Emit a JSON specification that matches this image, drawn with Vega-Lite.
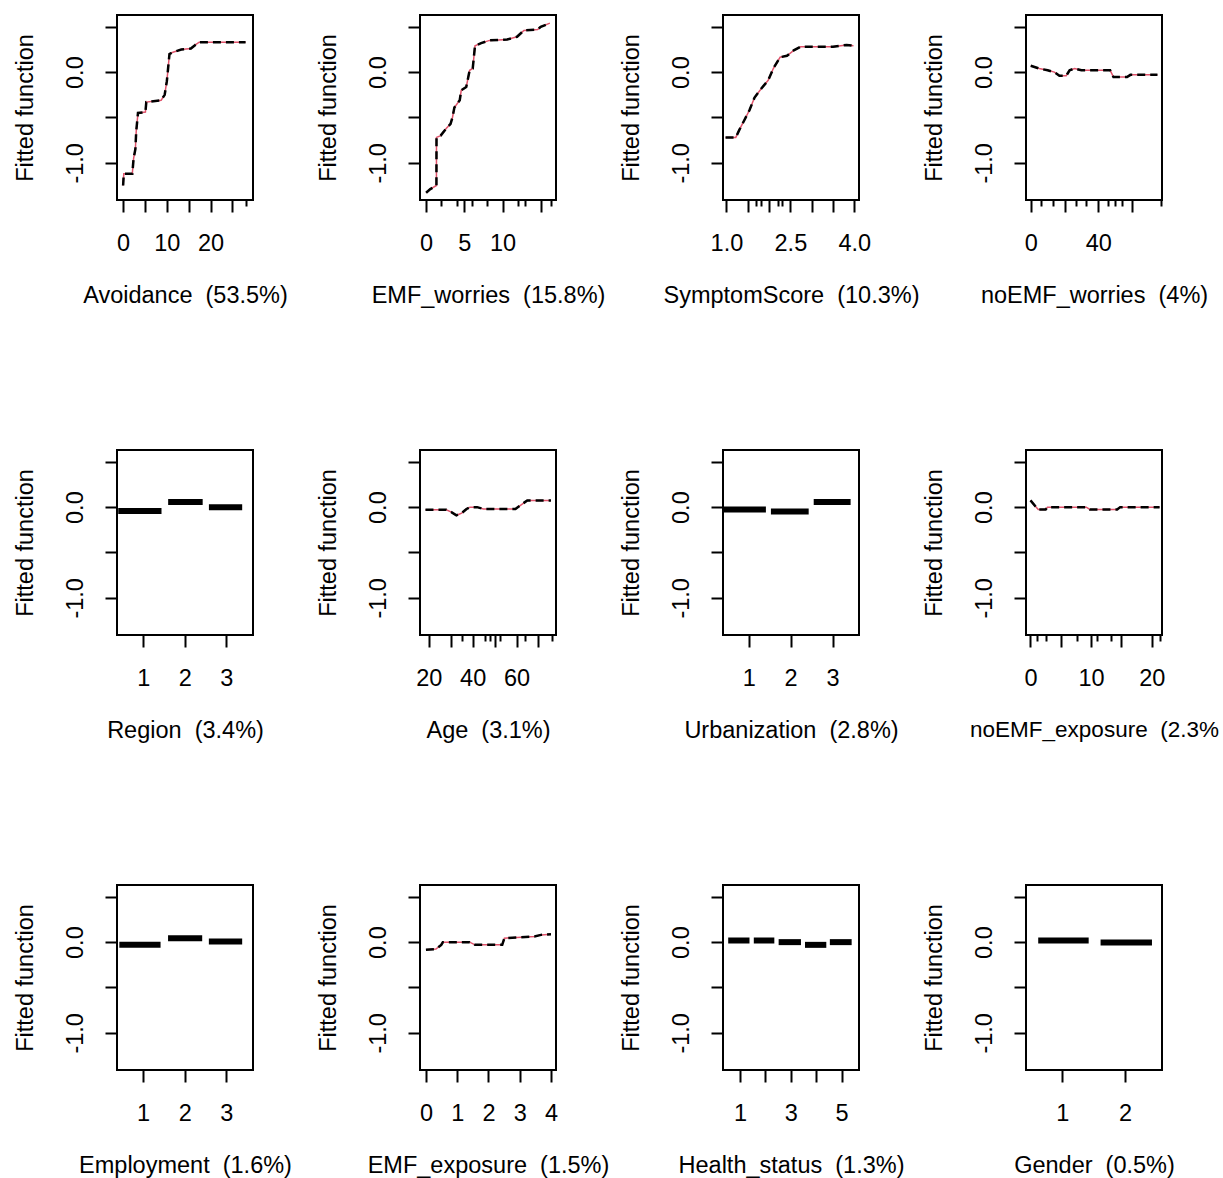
{
  "$schema": "https://vega.github.io/schema/vega-lite/v6.json",
  "background": "white",
  "padding": {"left": 12, "top": 14, "right": 0, "bottom": 0},
  "columns": 4,
  "bounds": "flush",
  "spacing": {"row": 250, "column": 167},
  "datasets": {
    "curves": [
      {"v": "Avoidance", "x": 0, "y": -1.25}, {"v": "Avoidance", "x": 0.15, "y": -1.12}, {"v": "Avoidance", "x": 2.1, "y": -1.12}, {"v": "Avoidance", "x": 2.4, "y": -0.95}, {"v": "Avoidance", "x": 2.8, "y": -0.85}, {"v": "Avoidance", "x": 3.0, "y": -0.65}, {"v": "Avoidance", "x": 3.4, "y": -0.45}, {"v": "Avoidance", "x": 5.1, "y": -0.44}, {"v": "Avoidance", "x": 5.3, "y": -0.33}, {"v": "Avoidance", "x": 8.7, "y": -0.31}, {"v": "Avoidance", "x": 9.5, "y": -0.25}, {"v": "Avoidance", "x": 10.0, "y": -0.1}, {"v": "Avoidance", "x": 10.6, "y": 0.2}, {"v": "Avoidance", "x": 11.4, "y": 0.22}, {"v": "Avoidance", "x": 13.3, "y": 0.25}, {"v": "Avoidance", "x": 15.5, "y": 0.26}, {"v": "Avoidance", "x": 16.5, "y": 0.3}, {"v": "Avoidance", "x": 17.4, "y": 0.33}, {"v": "Avoidance", "x": 28, "y": 0.33},
      {"v": "EMF_worries", "x": 0, "y": -1.33}, {"v": "EMF_worries", "x": 0.55, "y": -1.29}, {"v": "EMF_worries", "x": 1.35, "y": -1.25}, {"v": "EMF_worries", "x": 1.36, "y": -0.72}, {"v": "EMF_worries", "x": 1.9, "y": -0.7}, {"v": "EMF_worries", "x": 2.6, "y": -0.625}, {"v": "EMF_worries", "x": 3.2, "y": -0.57}, {"v": "EMF_worries", "x": 3.45, "y": -0.5}, {"v": "EMF_worries", "x": 3.7, "y": -0.39}, {"v": "EMF_worries", "x": 4.4, "y": -0.31}, {"v": "EMF_worries", "x": 4.6, "y": -0.2}, {"v": "EMF_worries", "x": 5.25, "y": -0.165}, {"v": "EMF_worries", "x": 5.7, "y": 0.02}, {"v": "EMF_worries", "x": 6.1, "y": 0.04}, {"v": "EMF_worries", "x": 6.4, "y": 0.29}, {"v": "EMF_worries", "x": 7.2, "y": 0.32}, {"v": "EMF_worries", "x": 8.3, "y": 0.35}, {"v": "EMF_worries", "x": 10.6, "y": 0.36}, {"v": "EMF_worries", "x": 11.9, "y": 0.39}, {"v": "EMF_worries", "x": 12.8, "y": 0.46}, {"v": "EMF_worries", "x": 14.6, "y": 0.47}, {"v": "EMF_worries", "x": 15.0, "y": 0.5}, {"v": "EMF_worries", "x": 16.2, "y": 0.54},
      {"v": "SymptomScore", "x": 0.98, "y": -0.72}, {"v": "SymptomScore", "x": 1.22, "y": -0.72}, {"v": "SymptomScore", "x": 1.3, "y": -0.64}, {"v": "SymptomScore", "x": 1.42, "y": -0.53}, {"v": "SymptomScore", "x": 1.54, "y": -0.42}, {"v": "SymptomScore", "x": 1.66, "y": -0.28}, {"v": "SymptomScore", "x": 1.82, "y": -0.18}, {"v": "SymptomScore", "x": 1.98, "y": -0.09}, {"v": "SymptomScore", "x": 2.1, "y": 0.04}, {"v": "SymptomScore", "x": 2.26, "y": 0.165}, {"v": "SymptomScore", "x": 2.42, "y": 0.18}, {"v": "SymptomScore", "x": 2.58, "y": 0.24}, {"v": "SymptomScore", "x": 2.74, "y": 0.28}, {"v": "SymptomScore", "x": 3.5, "y": 0.28}, {"v": "SymptomScore", "x": 3.82, "y": 0.3}, {"v": "SymptomScore", "x": 3.98, "y": 0.29},
      {"v": "noEMF_worries", "x": 0, "y": 0.07}, {"v": "noEMF_worries", "x": 5, "y": 0.04}, {"v": "noEMF_worries", "x": 10, "y": 0.02}, {"v": "noEMF_worries", "x": 14, "y": 0}, {"v": "noEMF_worries", "x": 17, "y": -0.04}, {"v": "noEMF_worries", "x": 21, "y": -0.04}, {"v": "noEMF_worries", "x": 23, "y": 0.02}, {"v": "noEMF_worries", "x": 26, "y": 0.04}, {"v": "noEMF_worries", "x": 30, "y": 0.02}, {"v": "noEMF_worries", "x": 47, "y": 0.02}, {"v": "noEMF_worries", "x": 49, "y": -0.055}, {"v": "noEMF_worries", "x": 57, "y": -0.055}, {"v": "noEMF_worries", "x": 59, "y": -0.03}, {"v": "noEMF_worries", "x": 75, "y": -0.03},
      {"v": "Age", "x": 18.5, "y": -0.03}, {"v": "Age", "x": 28, "y": -0.03}, {"v": "Age", "x": 30.3, "y": -0.055}, {"v": "Age", "x": 32.6, "y": -0.09}, {"v": "Age", "x": 35, "y": -0.067}, {"v": "Age", "x": 37.2, "y": -0.02}, {"v": "Age", "x": 38.8, "y": 0}, {"v": "Age", "x": 42, "y": 0}, {"v": "Age", "x": 44.9, "y": -0.02}, {"v": "Age", "x": 59.5, "y": -0.02}, {"v": "Age", "x": 61.8, "y": 0.02}, {"v": "Age", "x": 64.9, "y": 0.074}, {"v": "Age", "x": 75.7, "y": 0.074},
      {"v": "noEMF_exposure", "x": 0, "y": 0.074}, {"v": "noEMF_exposure", "x": 0.84, "y": 0.007}, {"v": "noEMF_exposure", "x": 1.28, "y": -0.026}, {"v": "noEMF_exposure", "x": 2.5, "y": -0.026}, {"v": "noEMF_exposure", "x": 2.8, "y": 0}, {"v": "noEMF_exposure", "x": 9.2, "y": 0}, {"v": "noEMF_exposure", "x": 9.8, "y": -0.026}, {"v": "noEMF_exposure", "x": 14.3, "y": -0.026}, {"v": "noEMF_exposure", "x": 14.8, "y": 0}, {"v": "noEMF_exposure", "x": 21.3, "y": 0},
      {"v": "EMF_exposure", "x": 0, "y": -0.084}, {"v": "EMF_exposure", "x": 0.32, "y": -0.077}, {"v": "EMF_exposure", "x": 0.49, "y": -0.03}, {"v": "EMF_exposure", "x": 0.54, "y": 0}, {"v": "EMF_exposure", "x": 1.4, "y": 0}, {"v": "EMF_exposure", "x": 1.57, "y": -0.03}, {"v": "EMF_exposure", "x": 2.44, "y": -0.03}, {"v": "EMF_exposure", "x": 2.51, "y": 0.044}, {"v": "EMF_exposure", "x": 3.47, "y": 0.062}, {"v": "EMF_exposure", "x": 3.68, "y": 0.08}, {"v": "EMF_exposure", "x": 4.0, "y": 0.088}
    ],
    "levels": [
      {"v": "Region", "lo": 0.40, "hi": 1.44, "y": -0.044}, {"v": "Region", "lo": 1.6, "hi": 2.43, "y": 0.056}, {"v": "Region", "lo": 2.58, "hi": 3.38, "y": 0.0},
      {"v": "Urbanization", "lo": 0.41, "hi": 1.41, "y": -0.026}, {"v": "Urbanization", "lo": 1.53, "hi": 2.43, "y": -0.048}, {"v": "Urbanization", "lo": 2.55, "hi": 3.43, "y": 0.056},
      {"v": "Employment", "lo": 0.43, "hi": 1.42, "y": -0.03}, {"v": "Employment", "lo": 1.6, "hi": 2.42, "y": 0.044}, {"v": "Employment", "lo": 2.58, "hi": 3.38, "y": 0.007},
      {"v": "Health_status", "lo": 0.53, "hi": 1.37, "y": 0.018}, {"v": "Health_status", "lo": 1.54, "hi": 2.35, "y": 0.018}, {"v": "Health_status", "lo": 2.52, "hi": 3.4, "y": 0.0}, {"v": "Health_status", "lo": 3.56, "hi": 4.4, "y": -0.03}, {"v": "Health_status", "lo": 4.54, "hi": 5.4, "y": 0.0},
      {"v": "Gender", "lo": 0.615, "hi": 1.42, "y": 0.018}, {"v": "Gender", "lo": 1.61, "hi": 2.43, "y": -0.003}
    ]
  },
  "concat": [
    {
      "width": 136, "height": 185,
      "data": {"name": "curves"},
      "transform": [{"filter": "datum.v === 'Avoidance'"}],
      "encoding": {
        "x": {"field": "x", "type": "quantitative", "scale": {"domain": [-1.4, 29.7], "nice": false, "zero": false},
              "axis": {"title": "Avoidance\u00a0 (53.5%)", "values": [0, 5, 10, 15, 20, 25, 28], "labelExpr": "indexof([0,10,20], datum.value) >= 0 ? datum.label : ''",
                       "tickSize": {"condition": {"test": "indexof([28], datum.value) >= 0", "value": 6}, "value": 12}}},
        "y": {"field": "y", "type": "quantitative", "scale": {"domain": [-1.41, 0.63], "nice": false, "zero": false},
              "axis": {"title": "Fitted function", "values": [-1, -0.5, 0, 0.5], "labelExpr": "datum.value == 0 ? '0.0' : datum.value == -1 ? '-1.0' : ''"}}
      },
      "layer": [
        {"mark": {"type": "line", "color": "#DF536B", "strokeWidth": 1.5}},
        {"mark": {"type": "line", "color": "black", "strokeWidth": 2.5, "strokeDash": [8, 5]}}
      ]
    },
    {
      "width": 136, "height": 185,
      "data": {"name": "curves"},
      "transform": [{"filter": "datum.v === 'EMF_worries'"}],
      "encoding": {
        "x": {"field": "x", "type": "quantitative", "scale": {"domain": [-0.8, 17.0], "nice": false, "zero": false},
              "axis": {"title": "EMF_worries\u00a0 (15.8%)", "values": [0, 2, 4, 5, 6, 8, 10, 12, 13, 15, 16.3], "labelExpr": "indexof([0,5,10], datum.value) >= 0 ? datum.label : ''",
                       "tickSize": {"condition": {"test": "indexof([2,4,6,8,12,13,16.3], datum.value) >= 0", "value": 6}, "value": 12}}},
        "y": {"field": "y", "type": "quantitative", "scale": {"domain": [-1.41, 0.63], "nice": false, "zero": false},
              "axis": {"title": "Fitted function", "values": [-1, -0.5, 0, 0.5], "labelExpr": "datum.value == 0 ? '0.0' : datum.value == -1 ? '-1.0' : ''"}}
      },
      "layer": [
        {"mark": {"type": "line", "color": "#DF536B", "strokeWidth": 1.5}},
        {"mark": {"type": "line", "color": "black", "strokeWidth": 2.5, "strokeDash": [8, 5]}}
      ]
    },
    {
      "width": 136, "height": 185,
      "data": {"name": "curves"},
      "transform": [{"filter": "datum.v === 'SymptomScore'"}],
      "encoding": {
        "x": {"field": "x", "type": "quantitative", "scale": {"domain": [0.92, 4.11], "nice": false, "zero": false},
              "axis": {"title": "SymptomScore\u00a0 (10.3%)", "values": [1, 1.5, 1.7, 1.8, 2, 2.2, 2.3, 2.5, 3, 3.5, 4], "labelExpr": "indexof([1,2.5,4], datum.value) >= 0 ? format(datum.value, '.1f') : ''",
                       "tickSize": {"condition": {"test": "indexof([1.7,1.8,2.2,2.3], datum.value) >= 0", "value": 6}, "value": 12}}},
        "y": {"field": "y", "type": "quantitative", "scale": {"domain": [-1.41, 0.63], "nice": false, "zero": false},
              "axis": {"title": "Fitted function", "values": [-1, -0.5, 0, 0.5], "labelExpr": "datum.value == 0 ? '0.0' : datum.value == -1 ? '-1.0' : ''"}}
      },
      "layer": [
        {"mark": {"type": "line", "color": "#DF536B", "strokeWidth": 1.5}},
        {"mark": {"type": "line", "color": "black", "strokeWidth": 2.5, "strokeDash": [8, 5]}}
      ]
    },
    {
      "width": 136, "height": 185,
      "data": {"name": "curves"},
      "transform": [{"filter": "datum.v === 'noEMF_worries'"}],
      "encoding": {
        "x": {"field": "x", "type": "quantitative", "scale": {"domain": [-2.8, 77.7], "nice": false, "zero": false},
              "axis": {"title": "noEMF_worries\u00a0 (4%)", "values": [0, 6, 13.4, 20, 26.6, 33, 40, 46, 50, 54, 60, 77], "labelExpr": "indexof([0,40], datum.value) >= 0 ? datum.label : ''",
                       "tickSize": {"condition": {"test": "indexof([0,20,40,60], datum.value) < 0", "value": 6}, "value": 12}}},
        "y": {"field": "y", "type": "quantitative", "scale": {"domain": [-1.41, 0.63], "nice": false, "zero": false},
              "axis": {"title": "Fitted function", "values": [-1, -0.5, 0, 0.5], "labelExpr": "datum.value == 0 ? '0.0' : datum.value == -1 ? '-1.0' : ''"}}
      },
      "layer": [
        {"mark": {"type": "line", "color": "#DF536B", "strokeWidth": 1.5}},
        {"mark": {"type": "line", "color": "black", "strokeWidth": 2.5, "strokeDash": [8, 5]}}
      ]
    },
    {
      "width": 136, "height": 185,
      "data": {"name": "levels"},
      "transform": [{"filter": "datum.v === 'Region'"}],
      "mark": {"type": "rule", "color": "black", "strokeWidth": 6},
      "encoding": {
        "x": {"field": "lo", "type": "quantitative", "scale": {"domain": [0.37, 3.64], "nice": false, "zero": false},
              "axis": {"title": "Region\u00a0 (3.4%)", "values": [1, 2, 3]}},
        "x2": {"field": "hi"},
        "y": {"field": "y", "type": "quantitative", "scale": {"domain": [-1.41, 0.63], "nice": false, "zero": false},
              "axis": {"title": "Fitted function", "values": [-1, -0.5, 0, 0.5], "labelExpr": "datum.value == 0 ? '0.0' : datum.value == -1 ? '-1.0' : ''"}}
      }
    },
    {
      "width": 136, "height": 185,
      "data": {"name": "curves"},
      "transform": [{"filter": "datum.v === 'Age'"}],
      "encoding": {
        "x": {"field": "x", "type": "quantitative", "scale": {"domain": [16, 78], "nice": false, "zero": false},
              "axis": {"title": "Age\u00a0 (3.1%)", "values": [20, 30, 35, 40, 45.7, 48, 50, 52.6, 60, 63.7, 70, 76], "labelExpr": "indexof([20,40,60], datum.value) >= 0 ? datum.label : ''",
                       "tickSize": {"condition": {"test": "indexof([35,45.7,48,52.6,63.7,76], datum.value) >= 0", "value": 6}, "value": 12}}},
        "y": {"field": "y", "type": "quantitative", "scale": {"domain": [-1.41, 0.63], "nice": false, "zero": false},
              "axis": {"title": "Fitted function", "values": [-1, -0.5, 0, 0.5], "labelExpr": "datum.value == 0 ? '0.0' : datum.value == -1 ? '-1.0' : ''"}}
      },
      "layer": [
        {"mark": {"type": "line", "color": "#DF536B", "strokeWidth": 1.5}},
        {"mark": {"type": "line", "color": "black", "strokeWidth": 2.5, "strokeDash": [8, 5]}}
      ]
    },
    {
      "width": 136, "height": 185,
      "data": {"name": "levels"},
      "transform": [{"filter": "datum.v === 'Urbanization'"}],
      "mark": {"type": "rule", "color": "black", "strokeWidth": 6},
      "encoding": {
        "x": {"field": "lo", "type": "quantitative", "scale": {"domain": [0.387, 3.63], "nice": false, "zero": false},
              "axis": {"title": "Urbanization\u00a0 (2.8%)", "values": [1, 2, 3]}},
        "x2": {"field": "hi"},
        "y": {"field": "y", "type": "quantitative", "scale": {"domain": [-1.41, 0.63], "nice": false, "zero": false},
              "axis": {"title": "Fitted function", "values": [-1, -0.5, 0, 0.5], "labelExpr": "datum.value == 0 ? '0.0' : datum.value == -1 ? '-1.0' : ''"}}
      }
    },
    {
      "width": 136, "height": 185,
      "data": {"name": "curves"},
      "transform": [{"filter": "datum.v === 'noEMF_exposure'"}],
      "encoding": {
        "x": {"field": "x", "type": "quantitative", "scale": {"domain": [-0.74, 21.7], "nice": false, "zero": false},
              "axis": {"title": "noEMF_exposure\u00a0 (2.3%", "titleFontSize": 22.5, "values": [0, 1.1, 2.5, 5, 7.6, 10, 10.9, 13.3, 15, 20, 21.4], "labelExpr": "indexof([0,10,20], datum.value) >= 0 ? datum.label : ''",
                       "tickSize": {"condition": {"test": "indexof([1.1,2.5,7.6,10.9,13.3,21.4], datum.value) >= 0", "value": 6}, "value": 12}}},
        "y": {"field": "y", "type": "quantitative", "scale": {"domain": [-1.41, 0.63], "nice": false, "zero": false},
              "axis": {"title": "Fitted function", "values": [-1, -0.5, 0, 0.5], "labelExpr": "datum.value == 0 ? '0.0' : datum.value == -1 ? '-1.0' : ''"}}
      },
      "layer": [
        {"mark": {"type": "line", "color": "#DF536B", "strokeWidth": 1.5}},
        {"mark": {"type": "line", "color": "black", "strokeWidth": 2.5, "strokeDash": [8, 5]}}
      ]
    },
    {
      "width": 136, "height": 185,
      "data": {"name": "levels"},
      "transform": [{"filter": "datum.v === 'Employment'"}],
      "mark": {"type": "rule", "color": "black", "strokeWidth": 6},
      "encoding": {
        "x": {"field": "lo", "type": "quantitative", "scale": {"domain": [0.374, 3.64], "nice": false, "zero": false},
              "axis": {"title": "Employment\u00a0 (1.6%)", "values": [1, 2, 3]}},
        "x2": {"field": "hi"},
        "y": {"field": "y", "type": "quantitative", "scale": {"domain": [-1.41, 0.63], "nice": false, "zero": false},
              "axis": {"title": "Fitted function", "values": [-1, -0.5, 0, 0.5], "labelExpr": "datum.value == 0 ? '0.0' : datum.value == -1 ? '-1.0' : ''"}}
      }
    },
    {
      "width": 136, "height": 185,
      "data": {"name": "curves"},
      "transform": [{"filter": "datum.v === 'EMF_exposure'"}],
      "encoding": {
        "x": {"field": "x", "type": "quantitative", "scale": {"domain": [-0.19, 4.16], "nice": false, "zero": false},
              "axis": {"title": "EMF_exposure\u00a0 (1.5%)", "values": [0, 1, 2, 3, 4]}},
        "y": {"field": "y", "type": "quantitative", "scale": {"domain": [-1.41, 0.63], "nice": false, "zero": false},
              "axis": {"title": "Fitted function", "values": [-1, -0.5, 0, 0.5], "labelExpr": "datum.value == 0 ? '0.0' : datum.value == -1 ? '-1.0' : ''"}}
      },
      "layer": [
        {"mark": {"type": "line", "color": "#DF536B", "strokeWidth": 1.5}},
        {"mark": {"type": "line", "color": "black", "strokeWidth": 2.5, "strokeDash": [8, 5]}}
      ]
    },
    {
      "width": 136, "height": 185,
      "data": {"name": "levels"},
      "transform": [{"filter": "datum.v === 'Health_status'"}],
      "mark": {"type": "rule", "color": "black", "strokeWidth": 6},
      "encoding": {
        "x": {"field": "lo", "type": "quantitative", "scale": {"domain": [0.325, 5.69], "nice": false, "zero": false},
              "axis": {"title": "Health_status\u00a0 (1.3%)", "values": [1, 2, 3, 4, 5], "labelExpr": "indexof([1,3,5], datum.value) >= 0 ? datum.label : ''"}},
        "x2": {"field": "hi"},
        "y": {"field": "y", "type": "quantitative", "scale": {"domain": [-1.41, 0.63], "nice": false, "zero": false},
              "axis": {"title": "Fitted function", "values": [-1, -0.5, 0, 0.5], "labelExpr": "datum.value == 0 ? '0.0' : datum.value == -1 ? '-1.0' : ''"}}
      }
    },
    {
      "width": 136, "height": 185,
      "data": {"name": "levels"},
      "transform": [{"filter": "datum.v === 'Gender'"}],
      "mark": {"type": "rule", "color": "black", "strokeWidth": 6},
      "encoding": {
        "x": {"field": "lo", "type": "quantitative", "scale": {"domain": [0.42, 2.59], "nice": false, "zero": false},
              "axis": {"title": "Gender\u00a0 (0.5%)", "values": [1, 2]}},
        "x2": {"field": "hi"},
        "y": {"field": "y", "type": "quantitative", "scale": {"domain": [-1.41, 0.63], "nice": false, "zero": false},
              "axis": {"title": "Fitted function", "values": [-1, -0.5, 0, 0.5], "labelExpr": "datum.value == 0 ? '0.0' : datum.value == -1 ? '-1.0' : ''"}}
      }
    }
  ],
  "config": {
    "view": {"stroke": "black", "strokeWidth": 2},
    "axis": {
      "domain": false, "grid": false,
      "labelFont": "Liberation Sans", "titleFont": "Liberation Sans",
      "labelFontSize": 23.5, "titleFontSize": 23.5, "titleFontWeight": "normal",
      "labelColor": "black", "titleColor": "black",
      "tickColor": "black", "tickWidth": 2, "tickSize": 12,
      "labelOverlap": false, "labelBound": false, "labelFlush": false
    },
    "axisX": {"labelPadding": 19, "titlePadding": 29, "labelAngle": 0, "labelAlign": "center", "labelBaseline": "top"},
    "axisY": {"labelPadding": 18, "titlePadding": 26, "labelAngle": -90, "labelAlign": "center", "labelBaseline": "bottom"}
  }
}
